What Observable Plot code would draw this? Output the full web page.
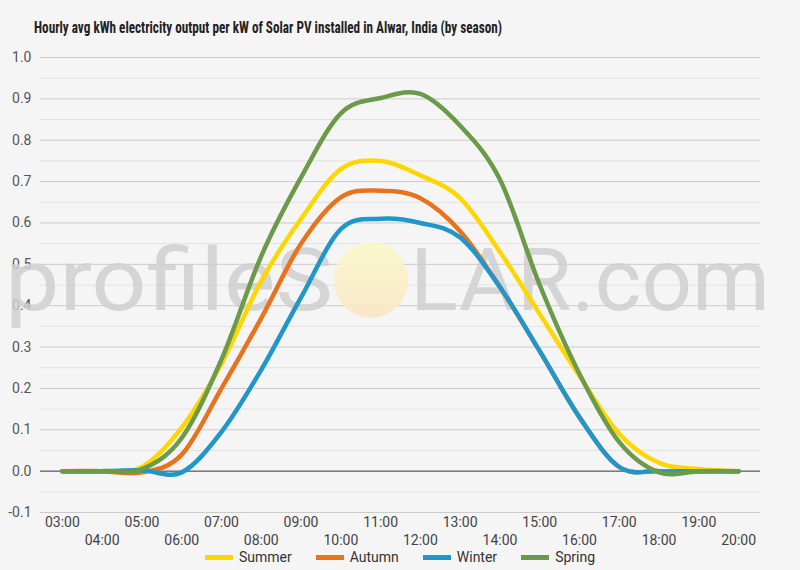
<!DOCTYPE html>
<html><head><meta charset="utf-8">
<script src="https://cdn.jsdelivr.net/npm/d3@7"></script>
<script src="https://cdn.jsdelivr.net/npm/@observablehq/plot@0.6"></script>
<style>
body{margin:0;background:#f5f5f5;font-family:Roboto,sans-serif;width:800px;height:570px;overflow:hidden}
svg{display:block}
#legend{display:flex;justify-content:center;align-items:center;height:18px;font-size:14px;color:#333}
.item{display:flex;align-items:center;margin:0 12px}
.sw{width:28px;height:5px;margin-right:6px}
</style></head><body>
<svg id="title" width="800" height="45"><text x="34" y="33" textLength="468" lengthAdjust="spacingAndGlyphs" font-family="'Roboto Condensed','Liberation Sans Narrow',Roboto,sans-serif" font-weight="bold" font-size="17" fill="#222">Hourly avg kWh electricity output per kW of Solar PV installed in Alwar, India (by season)</text></svg>
<div id="chart"></div>
<div id="legend"></div>
<script>
const hours = ["03:00","04:00","05:00","06:00","07:00","08:00","09:00","10:00","11:00","12:00","13:00","14:00","15:00","16:00","17:00","18:00","19:00","20:00"];
const seasons = ["Summer","Autumn","Winter","Spring"];
const colors = ["#FFD600","#E8731F","#2196C9","#6B9A4B"];
const summer = [0, 0, 0.01, 0.105, 0.26, 0.46, 0.61, 0.73, 0.75, 0.715, 0.66, 0.53, 0.38, 0.23, 0.09, 0.02, 0.005, 0];
const autumn = [0, 0, -0.003, 0.04, 0.20, 0.37, 0.55, 0.662, 0.678, 0.66, 0.58, 0.445, 0.29, 0.13, 0.01, 0, 0, 0];
const winter = [0, 0, 0.002, -0.003, 0.095, 0.245, 0.42, 0.585, 0.61, 0.60, 0.565, 0.445, 0.29, 0.13, 0.01, 0, 0, 0];
const spring = [0, 0, 0.005, 0.08, 0.27, 0.52, 0.71, 0.865, 0.902, 0.912, 0.835, 0.705, 0.45, 0.235, 0.07, -0.003, 0, 0];
const yTicks = [-0.1, 0.0, 0.1, 0.2, 0.3, 0.4, 0.5, 0.6, 0.7, 0.8, 0.9, 1.0];
const minorTicks = [-0.05, 0.05, 0.15, 0.25, 0.35, 0.45, 0.55, 0.65, 0.75, 0.85, 0.95];

const series = [summer, autumn, winter, spring];
const rows = [];
series.forEach((vals, i) => vals.forEach((v, j) => rows.push({season: seasons[i], hour: hours[j], value: v})));
const oddHours = hours.filter((h, i) => i % 2 === 0);
const evenHours = hours.filter((h, i) => i % 2 === 1);

const chart = Plot.plot({
  width: 800, height: 503,
  marginLeft: 40, marginRight: 40, marginTop: 12, marginBottom: 36,
  style: {background: "transparent", fontFamily: "Roboto, sans-serif", fontSize: "14px", color: "#555", overflow: "visible"},
  x: {type: "point", domain: hours, padding: 0.55, round: false, axis: null},
  y: {domain: [-0.1, 1.0], axis: null},
  color: {domain: seasons, range: colors},
  marks: [
    Plot.ruleY(minorTicks, {stroke: "#e2e2e2", strokeWidth: 1}),
    Plot.ruleY(yTicks.filter(d => d !== 0), {stroke: "#cbcbcb", strokeWidth: 1}),
    Plot.ruleY([0], {stroke: "#333", strokeWidth: 1}),
    Plot.axisY({ticks: yTicks, tickFormat: d => d.toFixed(1), tickSize: 0, tickPadding: 9, label: null, fill: "#555"}),
    Plot.axisX({ticks: oddHours, tickSize: 0, tickPadding: 5, label: null, fill: "#444"}),
    Plot.axisX({ticks: evenHours, tickSize: 0, tickPadding: 23, label: null, fill: "#444"}),
    Plot.line(rows, {x: "hour", y: "value", z: "season", stroke: "season", strokeWidth: 4.5, curve: "cardinal"})
  ]
});
document.getElementById("chart").appendChild(chart);

// watermark behind the lines
const svg = d3.select(chart);
const wm = svg.insert("g", 'g[aria-label="line"]').attr("aria-label", "watermark").attr("text-anchor", "start");
const defs = wm.append("defs");
const grad = defs.append("linearGradient").attr("id", "sun").attr("x1", 0).attr("y1", 0).attr("x2", 0).attr("y2", 1);
grad.append("stop").attr("offset", "0%").attr("stop-color", "#fbf8c8");
grad.append("stop").attr("offset", "100%").attr("stop-color", "#f9e6c4");
wm.append("text").attr("x", 5).attr("y", 265).attr("font-size", 88).attr("font-family", "Roboto, sans-serif")
  .attr("textLength", 328).attr("lengthAdjust", "spacingAndGlyphs").attr("fill", "#cfcfcf").attr("fill-opacity", 0.85).text("profileS");
wm.append("ellipse").attr("cx", 371).attr("cy", 235).attr("rx", 37).attr("ry", 38).attr("fill", "url(#sun)").attr("fill-opacity", 0.9);
wm.append("text").attr("x", 410).attr("y", 265).attr("font-size", 88).attr("font-family", "Roboto, sans-serif")
  .attr("textLength", 360).attr("lengthAdjust", "spacingAndGlyphs").attr("fill", "#cfcfcf").attr("fill-opacity", 0.85).text("LAR.com");

// legend
const legend = d3.select("#legend");
seasons.forEach((s, i) => {
  const it = legend.append("div").attr("class", "item");
  it.append("div").attr("class", "sw").style("background", colors[i]);
  it.append("span").text(s);
});
</script>
</body></html>
